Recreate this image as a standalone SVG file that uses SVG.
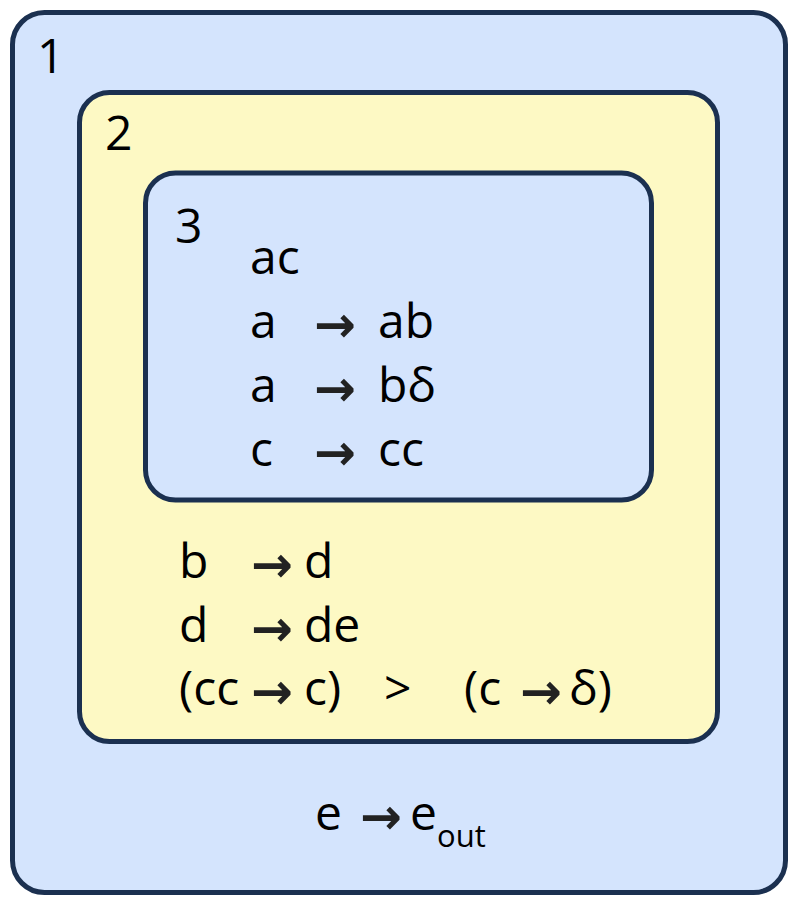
<svg xmlns="http://www.w3.org/2000/svg" width="800" height="907" viewBox="0 0 800 907">
<style>
.box{stroke:#1b3050;stroke-width:5}
.blue{fill:#d4e4fd}
.yellow{fill:#fdf9c4}
text{font-family:"Open Sans","Noto Sans","DejaVu Sans",sans-serif;font-size:48px;fill:#000}
.ar{font-family:"DejaVu Sans",sans-serif;font-weight:bold;font-size:50px;fill:#222}
.sub{font-size:31px}
</style>
<g id="compartment1">
<rect class="box blue" x="12.5" y="12.5" width="773" height="880" rx="32"/>
<text x="37" y="73">1</text>
<text x="315" y="830">e</text>
<text class="ar" x="360" y="834">→</text>
<text x="410" y="830">e</text>
<text class="sub" x="437" y="847">out</text>
</g>
<g id="compartment2">
<rect class="box yellow" x="79.5" y="92.5" width="638" height="649" rx="30"/>
<text x="105" y="150">2</text>
<text x="179" y="578">b</text>
<text class="ar" x="251" y="582">→</text>
<text x="304" y="578">d</text>
<text x="179" y="642">d</text>
<text class="ar" x="251" y="646">→</text>
<text x="304" y="642">de</text>
<text x="179" y="705">(cc</text>
<text class="ar" x="251" y="709">→</text>
<text x="304" y="705">c)</text>
<text x="384" y="705">&gt;</text>
<text x="464" y="705">(c</text>
<text class="ar" x="520" y="709">→</text>
<text x="569" y="705">δ)</text>
</g>
<g id="compartment3">
<rect class="box blue" x="145.5" y="173" width="506" height="327" rx="30"/>
<text x="175" y="243">3</text>
<text x="250" y="274">ac</text>
<text x="250" y="338">a</text>
<text class="ar" x="314" y="342">→</text>
<text x="378" y="338">ab</text>
<text x="250" y="402">a</text>
<text class="ar" x="314" y="406">→</text>
<text x="378" y="402">bδ</text>
<text x="250" y="466">c</text>
<text class="ar" x="314" y="470">→</text>
<text x="378" y="466">cc</text>
</g>
<g id="connectors"/>
</svg>
